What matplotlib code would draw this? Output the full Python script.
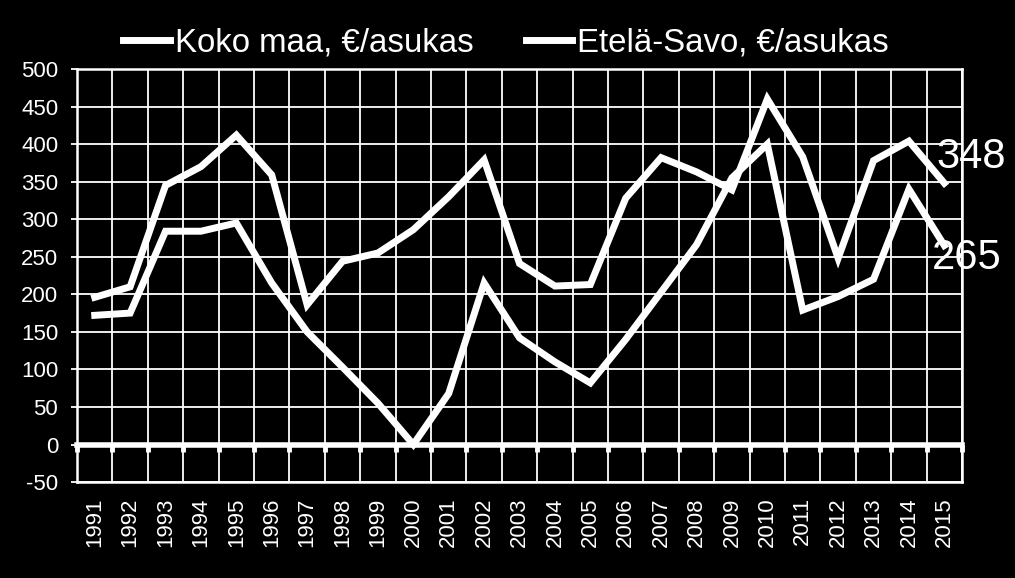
import matplotlib

matplotlib.use('Agg')
import matplotlib.pyplot as plt
import numpy as np

years = [str(y) for y in range(1991, 2016)]
koko_maa = [196, 210, 345, 370, 412, 359, 186, 244, 255, 286, 330, 379, 241,
            211, 213, 328, 382, 363, 339, 460, 383, 248, 378, 404, 348]
etela_savo = [172, 175, 284, 284, 295, 215, 150, 103, 55, 0, 68, 215, 142,
              110, 82, 140, 203, 266, 355, 400, 179, 197, 220, 340, 265]
series_names = ['Koko maa, €/asukas', 'Etelä-Savo, €/asukas']
y_ticks = list(range(-50, 501, 50))

plt.rcParams['font.family'] = ['Liberation Sans', 'DejaVu Sans']
plt.rcParams['axes.unicode_minus'] = False

fig = plt.figure(figsize=(10.15, 5.78), dpi=100, facecolor='black')
ax = fig.add_axes([0.0759, 0.166, 0.8719, 0.7146], facecolor='black')

x = np.arange(len(years))
ax.plot(x, koko_maa, color='white', lw=5, label=series_names[0],
        solid_joinstyle='miter', zorder=4)
ax.plot(x, etela_savo, color='white', lw=5, label=series_names[1],
        solid_joinstyle='miter', zorder=4)

ax.set_xlim(-0.5, len(years) - 0.5)
ax.set_ylim(y_ticks[0], y_ticks[-1])
ax.set_yticks(y_ticks)
ax.set_xticks(x)
ax.set_xticklabels(years, rotation=90)
ax.set_xticks(np.arange(len(years) + 1) - 0.5, minor=True)

ax.grid(True, which='major', axis='y', color='white', lw=1.3)
ax.grid(True, which='minor', axis='x', color='white', lw=1.3)
ax.set_axisbelow(True)

for s in ax.spines.values():
    s.set_color('white')
    s.set_linewidth(1.8)

ax.tick_params(axis='y', colors='white', labelsize=16, length=4.5,
               width=1.3, pad=9)
ax.tick_params(axis='x', which='both', colors='white', labelsize=16,
               length=0, pad=11)

# zero line with category tick marks
zero_frac = (0 - y_ticks[0]) / (y_ticks[-1] - y_ticks[0])
zax = ax.secondary_xaxis(zero_frac)
zax.spines['bottom'].set_color('white')
zax.spines['bottom'].set_linewidth(4)
zax.set_xticks(np.arange(len(years) + 1) - 0.5)
zax.tick_params(axis='x', colors='white', length=5, width=3.5, direction='out',
                labelbottom=False)

leg = ax.legend(loc='lower center', bbox_to_anchor=(0.485, 0.99), ncol=2,
                frameon=False, fontsize=23.8, handlelength=1.4,
                handletextpad=0.15, columnspacing=1.6, borderaxespad=0.05)
for t in leg.get_texts():
    t.set_color('white')

ax.annotate(str(koko_maa[-1]), xy=(x[-1], koko_maa[-1]), xytext=(-6, 19),
            textcoords='offset points', ha='left', va='center',
            color='white', fontsize=30, zorder=5)
ax.annotate(str(etela_savo[-1]), xy=(x[-1], etela_savo[-1]), xytext=(-9, -9),
            textcoords='offset points', ha='left', va='center',
            color='white', fontsize=30, zorder=5)

fig.savefig('out.png', dpi=100, facecolor='black')
plt.close(fig)
